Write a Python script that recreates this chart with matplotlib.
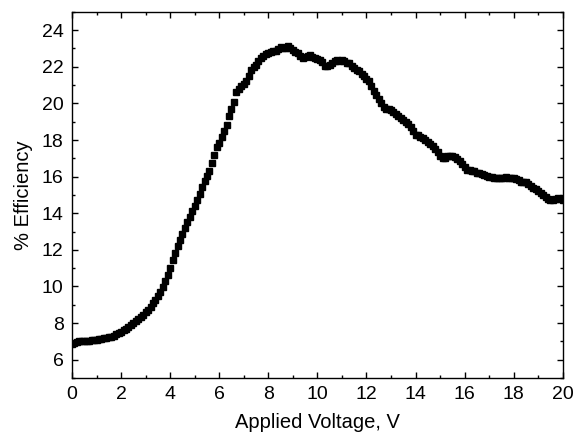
import numpy as np
import matplotlib
matplotlib.use("Agg")
import matplotlib.pyplot as plt
from matplotlib.ticker import MultipleLocator

# applied voltage (V), 0.1 V steps
voltage = np.round(np.arange(0, 201) * 0.1, 1)

# % efficiency
efficiency = [
    6.85, 6.92, 6.97, 7.00, 7.01, 7.00, 7.02, 7.03, 7.05, 7.07,
    7.09, 7.11, 7.14, 7.17, 7.20, 7.22, 7.26, 7.31, 7.38, 7.45,
    7.53, 7.61, 7.69, 7.78, 7.88, 7.98, 8.09, 8.20, 8.32, 8.44,
    8.58, 8.73, 8.90, 9.07, 9.27, 9.48, 9.72, 9.98, 10.28, 10.62,
    11.00, 11.42, 11.82, 12.20, 12.55, 12.88, 13.20, 13.52, 13.82, 14.10,
    14.40, 14.72, 15.05, 15.45, 15.78, 16.05, 16.30, 16.75, 17.20, 17.60,
    17.85, 18.15, 18.48, 18.80, 19.30, 19.70, 20.10, 20.60, 20.80, 20.95,
    21.05, 21.20, 21.50, 21.85, 22.00, 22.10, 22.30, 22.48, 22.58, 22.68,
    22.75, 22.80, 22.85, 22.88, 22.95, 23.10, 23.05, 23.00, 23.12, 23.05,
    22.90, 22.80, 22.75, 22.60, 22.48, 22.52, 22.60, 22.62, 22.55, 22.48,
    22.40, 22.38, 22.25, 22.05, 22.02, 22.10, 22.18, 22.30, 22.35, 22.32,
    22.38, 22.30, 22.22, 22.18, 22.05, 21.92, 21.85, 21.78, 21.62, 21.48,
    21.35, 21.20, 20.95, 20.70, 20.48, 20.25, 20.00, 19.80, 19.72, 19.70,
    19.62, 19.52, 19.40, 19.30, 19.20, 19.12, 19.00, 18.85, 18.70, 18.50,
    18.30, 18.25, 18.18, 18.10, 18.00, 17.90, 17.80, 17.65, 17.50, 17.35,
    17.15, 17.02, 17.00, 17.10, 17.15, 17.12, 17.05, 16.95, 16.88, 16.70,
    16.50, 16.38, 16.35, 16.30, 16.28, 16.22, 16.20, 16.15, 16.10, 16.05,
    16.00, 15.98, 15.95, 15.92, 15.90, 15.92, 15.95, 15.98, 15.95, 15.92,
    15.90, 15.88, 15.80, 15.72, 15.70, 15.68, 15.60, 15.48, 15.38, 15.30,
    15.20, 15.10, 15.00, 14.88, 14.78, 14.72, 14.70, 14.75, 14.82, 14.75,
    14.70,
]

plt.rcParams['font.family'] = ['Liberation Sans', 'DejaVu Sans']

fig = plt.figure(figsize=(5.76, 4.40), dpi=100)
ax = fig.add_axes([0.125, 0.141, 0.852, 0.832])

ax.plot(voltage, efficiency, linestyle='none', marker='s', markersize=4,
        color='black')

ax.set_xlim(0, 20)
ax.set_ylim(5, 25)
ax.xaxis.set_major_locator(MultipleLocator(2))
ax.xaxis.set_minor_locator(MultipleLocator(1))
ax.yaxis.set_major_locator(MultipleLocator(2))
ax.yaxis.set_minor_locator(MultipleLocator(1))
ax.set_yticks(np.arange(6, 25, 2))

ax.tick_params(which='both', direction='in', top=True, right=True,
               width=1.0, labelsize=14, pad=6)
ax.tick_params(which='major', length=4)
ax.tick_params(which='minor', length=2.5)
for s in ax.spines.values():
    s.set_linewidth(1.0)

ax.set_xlabel("Applied Voltage, V", fontsize=14.5, labelpad=7)
ax.set_ylabel("% Efficiency", fontsize=14.5, labelpad=6)

fig.savefig("out.png", dpi=100)
